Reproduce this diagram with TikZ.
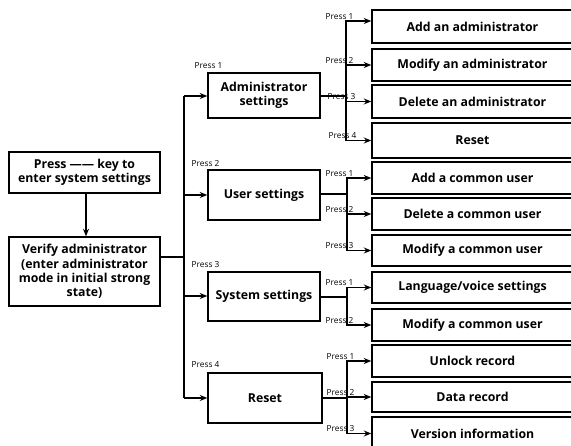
\documentclass[tikz,border=0pt]{standalone}
\usepackage{fontspec}
\setmainfont{Open Sans}
\usetikzlibrary{arrows.meta,calc}
\begin{document}
\begin{tikzpicture}[x=1pt,y=-1pt,
  box/.style={draw, line width=1.4pt, align=center, inner sep=0pt,
    font=\fontsize{12.3}{14.3}\selectfont\bfseries},
  conn/.style={line width=1.4pt},
  ar/.style={line width=1.4pt, -{Stealth[length=7.5pt,width=6pt]}},
  lbl/.style={font=\fontsize{8.3}{9}\selectfont, anchor=south west, inner sep=0.5pt}]
\useasboundingbox (0,0) rectangle (571,446);
% left boxes
\node[box, minimum width=151pt, minimum height=41pt] (press) at (84.5,172.5) {Press —— key to\\enter system settings};
\node[box, minimum width=151pt, minimum height=69pt] (verify) at (84.5,271.5) {Verify administrator\\(enter administrator\\mode in initial strong\\state)};
% middle boxes
\node[box, minimum width=112pt, minimum height=45pt] (adm) at (264,95.5) {Administrator\\settings};
\node[box, minimum width=112pt, minimum height=50pt] (usr) at (264,195) {User settings};
\node[box, minimum width=112pt, minimum height=49pt] (sys) at (264,296.5) {System settings};
\node[box, minimum width=114pt, minimum height=50pt] (rst) at (265,398) {Reset};
% right boxes
\tikzset{rbox/.style={box, minimum width=201pt}}
\node[rbox, minimum height=33pt] (r1) at (472.5,26.5) {Add an administrator};
\node[rbox, minimum height=32pt] (r2) at (472.5,65) {Modify an administrator};
\node[rbox, minimum height=33pt] (r3) at (472.5,101.5) {Delete an administrator};
\node[rbox, minimum height=35pt] (r4) at (472.5,140.5) {Reset};
\node[rbox, minimum height=32pt] (r5) at (472.5,178) {Add a common user};
\node[rbox, minimum height=32pt] (r6) at (472.5,214) {Delete a common user};
\node[rbox, minimum height=31pt] (r7) at (472.5,250.5) {Modify a common user};
\node[rbox, minimum height=31pt] (r8) at (472.5,287.5) {Language/voice settings};
\node[rbox, minimum height=32pt] (r9) at (472.5,325) {Modify a common user};
\node[rbox, minimum height=32pt] (r10) at (472.5,361) {Unlock record};
\node[rbox, minimum height=30pt] (r11) at (472.5,397) {Data record};
\node[rbox, minimum height=33pt] (r12) at (472.5,433.5) {Version information};
% left connectors
\draw[ar] (press.south -| 86,0) -- (verify.north -| 86,0);
\coordinate (tv) at (184,257);
\draw[conn] (verify.east |- tv) -- (tv);
\coordinate (tt) at (184,96);
\coordinate (tb) at (184,398);
\draw[conn] (tt) -- (tb);
\draw[ar] (tt) -- (adm.west |- tt);
\draw[ar] (184,195) coordinate (tu) -- (usr.west |- tu);
\draw[ar] (184,296) coordinate (ts) -- (sys.west |- ts);
\draw[ar] (tb) -- (rst.west |- tb);
\node[lbl] (lp1) at (194,69) {Press 1};
\node[lbl] (lp2) at (191,167) {Press 2};
\node[lbl] (lp3) at (191,268) {Press 3};
\node[lbl] (lp4) at (191,368) {Press 4};
% admin group
\coordinate (ja) at (346,96);
\draw[conn] (adm.east |- ja) -- (ja);
\draw[ar] (ja) |- (r1.west |- 0,21);
\draw[ar] (ja) |- (r2.west);
\draw[ar] (ja) |- (r3.west);
\draw[ar] (ja) |- (r4.west);
\node[lbl] (a1) at (325,20) {Press 1};
\node[lbl] (a2) at (325,64) {Press 2};
\node[lbl] (a3) at (327,100) {Press 3};
\node[lbl] (a4) at (328,139) {Press 4};
% user group
\coordinate (ju) at (347,194);
\draw[conn] (usr.east |- ju) -- (ju);
\draw[ar] (ju) |- (r5.west);
\draw[ar] (ju) |- (r6.west);
\draw[ar] (ju) |- (r7.west);
\node[lbl] (u1) at (325,177) {Press 1};
\node[lbl] (u2) at (325,213) {Press 2};
\node[lbl] (u3) at (325,249) {Press 3};
% system group
\coordinate (js) at (347,297);
\draw[conn] (sys.east |- js) -- (js);
\draw[ar] (js) |- (r8.west);
\draw[ar] (js) |- (r9.west);
\node[lbl] (s1) at (325,286) {Press 1};
\node[lbl] (s2) at (325,324) {Press 2};
% reset group
\coordinate (jr) at (347,398);
\draw[conn] (rst.east |- jr) -- (jr);
\draw[ar] (jr) |- (r10.west);
\draw[ar] (jr) |- (r11.west);
\draw[ar] (jr) |- (r12.west);
\node[lbl] (e1) at (326,360) {Press 1};
\node[lbl] (e2) at (326,396) {Press 2};
\node[lbl] (e3) at (326,432) {Press 3};
\end{tikzpicture}
\end{document}
